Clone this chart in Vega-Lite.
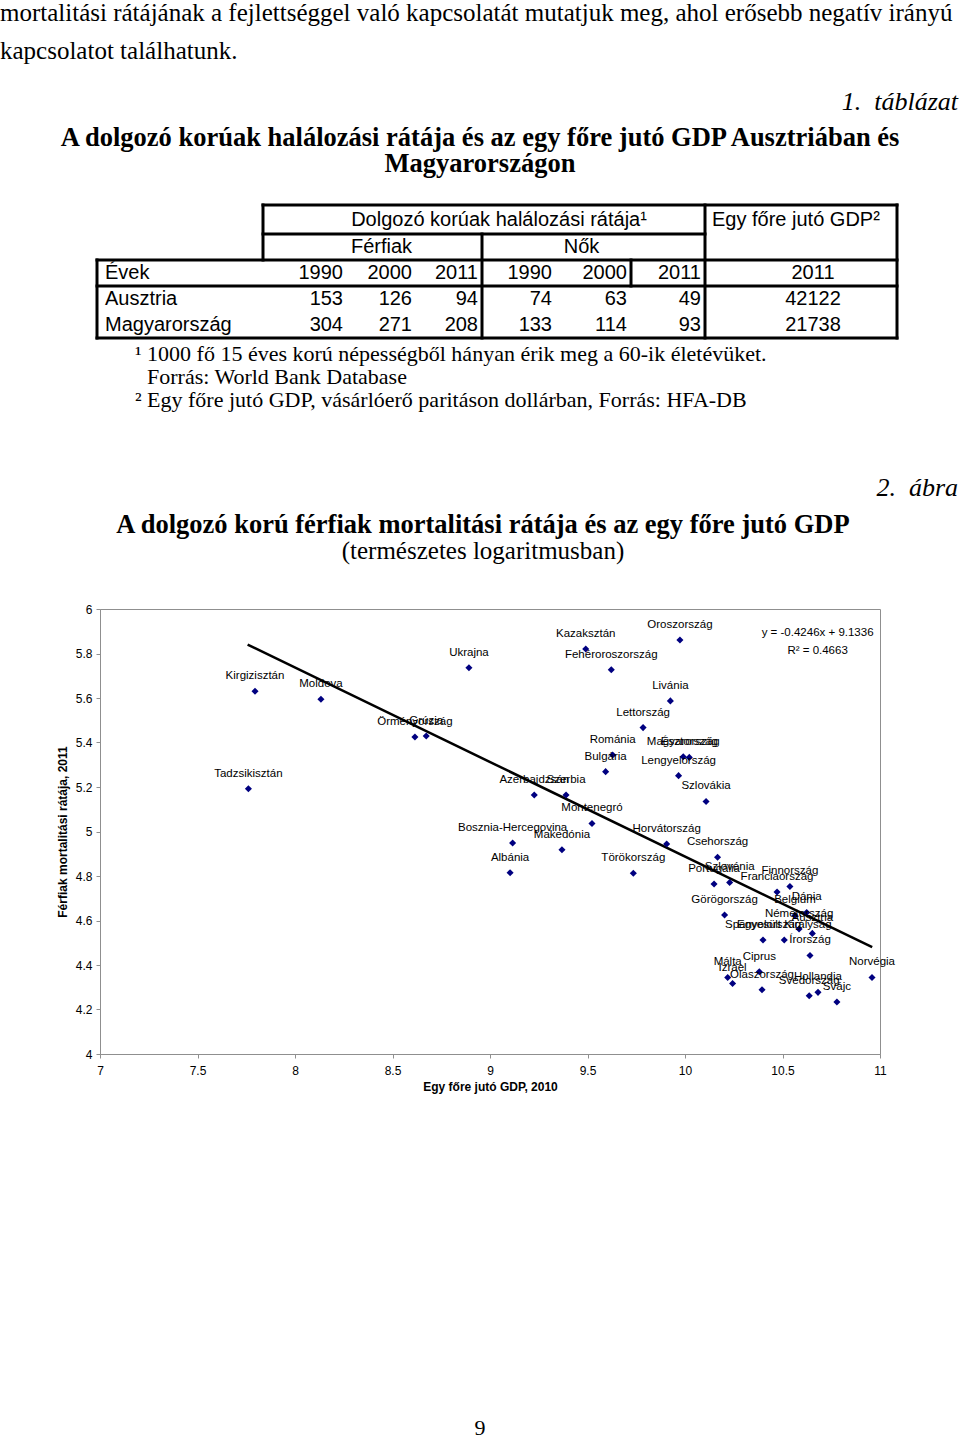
{
  "$schema": "https://vega.github.io/schema/vega-lite/v6.json",
  "padding": 0,
  "spacing": 0,
  "background": "white",
  "config": {
    "view": {"stroke": null},
    "font": "Liberation Sans",
    "text": {"color": "#000"}
  },
  "datasets": {
    "countries": [
      {"country": "Tadzsikisztán", "gdp": 7.761, "mort": 5.192},
      {"country": "Kirgizisztán", "gdp": 7.795, "mort": 5.630},
      {"country": "Moldova", "gdp": 8.133, "mort": 5.594},
      {"country": "Örményország", "gdp": 8.615, "mort": 5.425},
      {"country": "Grúzia", "gdp": 8.673, "mort": 5.429},
      {"country": "Ukrajna", "gdp": 8.892, "mort": 5.736},
      {"country": "Albánia", "gdp": 9.103, "mort": 4.815},
      {"country": "Bosznia-Hercegovina", "gdp": 9.116, "mort": 4.948},
      {"country": "Azerbajdzsán", "gdp": 9.227, "mort": 5.164},
      {"country": "Makedónia", "gdp": 9.369, "mort": 4.918},
      {"country": "Szerbia", "gdp": 9.390, "mort": 5.164},
      {"country": "Kazaksztán", "gdp": 9.491, "mort": 5.820},
      {"country": "Montenegró", "gdp": 9.523, "mort": 5.036},
      {"country": "Bulgária", "gdp": 9.593, "mort": 5.269},
      {"country": "Fehéroroszország", "gdp": 9.622, "mort": 5.727},
      {"country": "Románia", "gdp": 9.629, "mort": 5.344},
      {"country": "Törökország", "gdp": 9.735, "mort": 4.812},
      {"country": "Lettország", "gdp": 9.785, "mort": 5.467},
      {"country": "Horvátország", "gdp": 9.906, "mort": 4.944},
      {"country": "Livánia", "gdp": 9.925, "mort": 5.587},
      {"country": "Lengyelország", "gdp": 9.967, "mort": 5.251},
      {"country": "Oroszország", "gdp": 9.974, "mort": 5.861},
      {"country": "Magyarország", "gdp": 9.991, "mort": 5.336},
      {"country": "Észtország", "gdp": 10.022, "mort": 5.333},
      {"country": "Szlovákia", "gdp": 10.108, "mort": 5.135},
      {"country": "Portugália", "gdp": 10.149, "mort": 4.764},
      {"country": "Csehország", "gdp": 10.167, "mort": 4.884},
      {"country": "Görögország", "gdp": 10.203, "mort": 4.625},
      {"country": "Málta", "gdp": 10.219, "mort": 4.344},
      {"country": "Szlovénia", "gdp": 10.229, "mort": 4.771},
      {"country": "Izrael", "gdp": 10.244, "mort": 4.317},
      {"country": "Ciprus", "gdp": 10.381, "mort": 4.370},
      {"country": "Olaszország", "gdp": 10.395, "mort": 4.289},
      {"country": "Spanyolország", "gdp": 10.400, "mort": 4.512},
      {"country": "Franciaország", "gdp": 10.472, "mort": 4.728},
      {"country": "Egyesült Királyság", "gdp": 10.509, "mort": 4.512},
      {"country": "Finnország", "gdp": 10.538, "mort": 4.753},
      {"country": "Belgium", "gdp": 10.564, "mort": 4.623},
      {"country": "Németország", "gdp": 10.585, "mort": 4.562},
      {"country": "Dánia", "gdp": 10.624, "mort": 4.636},
      {"country": "Svédország", "gdp": 10.637, "mort": 4.262},
      {"country": "Írország", "gdp": 10.641, "mort": 4.443},
      {"country": "Ausztria", "gdp": 10.653, "mort": 4.542},
      {"country": "Hollandia", "gdp": 10.682, "mort": 4.277},
      {"country": "Svájc", "gdp": 10.779, "mort": 4.234},
      {"country": "Norvégia", "gdp": 10.959, "mort": 4.344}
    ],
    "trend": [
      {"gdp": 7.757, "mort": 5.840},
      {"gdp": 10.96, "mort": 4.480}
    ],
    "equation": [
      {"gdp": 10.68, "mort": 5.893, "label": "y = -0.4246x + 9.1336"},
      {"gdp": 10.68, "mort": 5.813, "label": "R² = 0.4663"}
    ]
  },
  "vconcat": [
    {
      "width": 960,
      "height": 76,
      "data": {"values": [
        {"line": 1, "text": "mortalitási rátájának a fejlettséggel való kapcsolatát mutatjuk meg, ahol erősebb negatív irányú"},
        {"line": 2, "text": "kapcsolatot találhatunk."}
      ]},
      "mark": {"type": "text", "align": "left", "baseline": "alphabetic", "dy": 2, "font": "Liberation Serif", "fontSize": 25, "color": "#000"},
      "encoding": {
        "y": {"field": "line", "type": "ordinal", "axis": null},
        "x": {"value": 0},
        "text": {"field": "text"}
      }
    },
    {
      "width": 960,
      "height": 48,
      "data": {"values": [{"text": "1.\u00a0 táblázat"}]},
      "mark": {"type": "text", "align": "right", "baseline": "alphabetic", "dy": 10, "dx": -2, "font": "Liberation Serif", "fontStyle": "italic", "fontSize": 26, "color": "#000"},
      "encoding": {
        "x": {"value": "width"},
        "text": {"field": "text"}
      }
    },
    {
      "width": 960,
      "height": 52,
      "data": {"values": [
        {"line": 1, "text": "A dolgozó korúak halálozási rátája és az egy főre jutó GDP Ausztriában és"},
        {"line": 2, "text": "Magyarországon"}
      ]},
      "mark": {"type": "text", "align": "center", "baseline": "alphabetic", "dy": 9, "font": "Liberation Serif", "fontWeight": "bold", "fontSize": 26.5, "color": "#000"},
      "encoding": {
        "y": {"field": "line", "type": "ordinal", "axis": null},
        "text": {"field": "text"}
      }
    },
    {
      "width": 960,
      "height": 165,
      "layer": [
        {
          "data": {"values": [
            {"y": -0.5, "x1": 0, "x2": 7},
            {"y": 0.5, "x1": 0, "x2": 6},
            {"y": 1.5, "x1": -1, "x2": 7},
            {"y": 2.5, "x1": -1, "x2": 7},
            {"y": 4.5, "x1": -1, "x2": 7}
          ]},
          "mark": {"type": "rule", "strokeWidth": 3, "color": "#000", "strokeCap": "square"},
          "encoding": {
            "x": {"field": "x1", "type": "quantitative", "axis": null, "scale": {"domain": [-1, 0, 1, 2, 3, 4, 5, 6, 7], "range": [97, 263, 347, 416, 482, 556, 631, 705, 897], "nice": false, "zero": false}},
            "x2": {"field": "x2"},
            "y": {"field": "y", "type": "quantitative", "axis": null, "scale": {"domain": [-0.5, 0.5, 1.5, 2.5, 3.5, 4.5], "range": [27, 56, 82, 108, 134, 160], "nice": false, "zero": false}}
          }
        },
        {
          "data": {"values": [
            {"x": -1, "y1": 1.5, "y2": 4.5},
            {"x": 0, "y1": -0.5, "y2": 1.5},
            {"x": 3, "y1": 0.5, "y2": 4.5},
            {"x": 5, "y1": 1.5, "y2": 2.5},
            {"x": 6, "y1": -0.5, "y2": 4.5},
            {"x": 7, "y1": -0.5, "y2": 4.5}
          ]},
          "mark": {"type": "rule", "strokeWidth": 3, "color": "#000", "strokeCap": "square"},
          "encoding": {
            "x": {"field": "x", "type": "quantitative", "axis": null, "scale": {"domain": [-1, 0, 1, 2, 3, 4, 5, 6, 7], "range": [97, 263, 347, 416, 482, 556, 631, 705, 897], "nice": false, "zero": false}},
            "y": {"field": "y1", "type": "quantitative", "axis": null, "scale": {"domain": [-0.5, 0.5, 1.5, 2.5, 3.5, 4.5], "range": [27, 56, 82, 108, 134, 160], "nice": false, "zero": false}},
            "y2": {"field": "y2"}
          }
        },
        {
          "data": {"values": [
            {"row": 2, "t": "Évek"},
            {"row": 3, "t": "Ausztria"},
            {"row": 4, "t": "Magyarország"}
          ]},
          "mark": {"type": "text", "align": "left", "baseline": "middle", "dx": 8, "fontSize": 20, "font": "Liberation Sans", "color": "#000"},
          "encoding": {
            "x": {"datum": -1, "type": "quantitative", "axis": null, "scale": {"domain": [-1, 0, 1, 2, 3, 4, 5, 6, 7], "range": [97, 263, 347, 416, 482, 556, 631, 705, 897], "nice": false, "zero": false}},
            "y": {"field": "row", "type": "quantitative", "axis": null, "scale": {"domain": [-0.5, 0.5, 1.5, 2.5, 3.5, 4.5], "range": [27, 56, 82, 108, 134, 160], "nice": false, "zero": false}},
            "text": {"field": "t"}
          }
        },
        {
          "data": {"values": [
            {"row": 2, "col": 1, "t": "1990"},
            {"row": 2, "col": 2, "t": "2000"},
            {"row": 2, "col": 3, "t": "2011"},
            {"row": 2, "col": 4, "t": "1990"},
            {"row": 2, "col": 5, "t": "2000"},
            {"row": 2, "col": 6, "t": "2011"},
            {"row": 3, "col": 1, "t": "153"},
            {"row": 3, "col": 2, "t": "126"},
            {"row": 3, "col": 3, "t": "94"},
            {"row": 3, "col": 4, "t": "74"},
            {"row": 3, "col": 5, "t": "63"},
            {"row": 3, "col": 6, "t": "49"},
            {"row": 4, "col": 1, "t": "304"},
            {"row": 4, "col": 2, "t": "271"},
            {"row": 4, "col": 3, "t": "208"},
            {"row": 4, "col": 4, "t": "133"},
            {"row": 4, "col": 5, "t": "114"},
            {"row": 4, "col": 6, "t": "93"}
          ]},
          "mark": {"type": "text", "align": "right", "baseline": "middle", "dx": -4, "fontSize": 20, "font": "Liberation Sans", "color": "#000"},
          "encoding": {
            "x": {"field": "col", "type": "quantitative", "axis": null, "scale": {"domain": [-1, 0, 1, 2, 3, 4, 5, 6, 7], "range": [97, 263, 347, 416, 482, 556, 631, 705, 897], "nice": false, "zero": false}},
            "y": {"field": "row", "type": "quantitative", "axis": null, "scale": {"domain": [-0.5, 0.5, 1.5, 2.5, 3.5, 4.5], "range": [27, 56, 82, 108, 134, 160], "nice": false, "zero": false}},
            "text": {"field": "t"}
          }
        },
        {
          "data": {"values": [
            {"row": 2, "t": "2011"},
            {"row": 3, "t": "42122"},
            {"row": 4, "t": "21738"}
          ]},
          "mark": {"type": "text", "align": "center", "baseline": "middle", "dx": 12, "fontSize": 20, "font": "Liberation Sans", "color": "#000"},
          "encoding": {
            "x": {"datum": 6.5, "type": "quantitative", "axis": null, "scale": {"domain": [-1, 0, 1, 2, 3, 4, 5, 6, 7], "range": [97, 263, 347, 416, 482, 556, 631, 705, 897], "nice": false, "zero": false}},
            "y": {"field": "row", "type": "quantitative", "axis": null, "scale": {"domain": [-0.5, 0.5, 1.5, 2.5, 3.5, 4.5], "range": [27, 56, 82, 108, 134, 160], "nice": false, "zero": false}},
            "text": {"field": "t"}
          }
        },
        {
          "data": {"values": [{"t": "Dolgozó korúak halálozási rátája¹"}]},
          "mark": {"type": "text", "align": "center", "baseline": "middle", "dx": 17, "fontSize": 20, "font": "Liberation Sans", "color": "#000"},
          "encoding": {
            "x": {"datum": 3, "type": "quantitative", "axis": null, "scale": {"domain": [-1, 0, 1, 2, 3, 4, 5, 6, 7], "range": [97, 263, 347, 416, 482, 556, 631, 705, 897], "nice": false, "zero": false}},
            "y": {"datum": 0, "type": "quantitative", "axis": null, "scale": {"domain": [-0.5, 0.5, 1.5, 2.5, 3.5, 4.5], "range": [27, 56, 82, 108, 134, 160], "nice": false, "zero": false}},
            "text": {"field": "t"}
          }
        },
        {
          "data": {"values": [{"t": "Férfiak"}]},
          "mark": {"type": "text", "align": "center", "baseline": "middle", "fontSize": 20, "font": "Liberation Sans", "color": "#000"},
          "encoding": {
            "x": {"datum": 1.5, "type": "quantitative", "axis": null, "scale": {"domain": [-1, 0, 1, 2, 3, 4, 5, 6, 7], "range": [97, 263, 347, 416, 482, 556, 631, 705, 897], "nice": false, "zero": false}},
            "y": {"datum": 1, "type": "quantitative", "axis": null, "scale": {"domain": [-0.5, 0.5, 1.5, 2.5, 3.5, 4.5], "range": [27, 56, 82, 108, 134, 160], "nice": false, "zero": false}},
            "text": {"field": "t"}
          }
        },
        {
          "data": {"values": [{"t": "Nők"}]},
          "mark": {"type": "text", "align": "center", "baseline": "middle", "dx": -12, "fontSize": 20, "font": "Liberation Sans", "color": "#000"},
          "encoding": {
            "x": {"datum": 4.5, "type": "quantitative", "axis": null, "scale": {"domain": [-1, 0, 1, 2, 3, 4, 5, 6, 7], "range": [97, 263, 347, 416, 482, 556, 631, 705, 897], "nice": false, "zero": false}},
            "y": {"datum": 1, "type": "quantitative", "axis": null, "scale": {"domain": [-0.5, 0.5, 1.5, 2.5, 3.5, 4.5], "range": [27, 56, 82, 108, 134, 160], "nice": false, "zero": false}},
            "text": {"field": "t"}
          }
        },
        {
          "data": {"values": [{"t": "Egy főre jutó GDP²"}]},
          "mark": {"type": "text", "align": "left", "baseline": "middle", "dx": 7, "fontSize": 20, "font": "Liberation Sans", "color": "#000"},
          "encoding": {
            "x": {"datum": 6, "type": "quantitative", "axis": null, "scale": {"domain": [-1, 0, 1, 2, 3, 4, 5, 6, 7], "range": [97, 263, 347, 416, 482, 556, 631, 705, 897], "nice": false, "zero": false}},
            "y": {"datum": 0, "type": "quantitative", "axis": null, "scale": {"domain": [-0.5, 0.5, 1.5, 2.5, 3.5, 4.5], "range": [27, 56, 82, 108, 134, 160], "nice": false, "zero": false}},
            "text": {"field": "t"}
          }
        }
      ]
    },
    {
      "width": 960,
      "height": 69,
      "layer": [
        {
          "data": {"values": [
            {"line": 1, "text": "¹ 1000 fő 15 éves korú népességből hányan érik meg a 60-ik életévüket."},
            {"line": 3, "text": "² Egy főre jutó GDP, vásárlóerő paritáson dollárban, Forrás: HFA-DB"}
          ]},
          "mark": {"type": "text", "align": "left", "baseline": "alphabetic", "dx": 135, "dy": 4.5, "font": "Liberation Serif", "fontSize": 22, "color": "#000"},
          "encoding": {
            "y": {"field": "line", "type": "ordinal", "axis": null, "scale": {"domain": [1, 2, 3]}},
            "x": {"value": 0},
            "text": {"field": "text"}
          }
        },
        {
          "data": {"values": [
            {"line": 2, "text": "Forrás: World Bank Database"}
          ]},
          "mark": {"type": "text", "align": "left", "baseline": "alphabetic", "dx": 147, "dy": 4.5, "font": "Liberation Serif", "fontSize": 22, "color": "#000"},
          "encoding": {
            "y": {"field": "line", "type": "ordinal", "axis": null, "scale": {"domain": [1, 2, 3]}},
            "x": {"value": 0},
            "text": {"field": "text"}
          }
        }
      ]
    },
    {
      "width": 960,
      "height": 97,
      "data": {"values": [{"text": "2.\u00a0 ábra"}]},
      "mark": {"type": "text", "align": "right", "baseline": "alphabetic", "dy": 33.5, "dx": -2, "font": "Liberation Serif", "fontStyle": "italic", "fontSize": 26, "color": "#000"},
      "encoding": {
        "x": {"value": "width"},
        "text": {"field": "text"}
      }
    },
    {
      "spacing": 0,
      "hconcat": [
        {
          "width": 55,
          "height": 10,
          "view": {"fill": "#ffffff", "stroke": null},
          "data": {"values": []},
          "mark": "point",
          "encoding": {}
        },
        {
          "width": 780,
          "height": 445,
          "view": {"stroke": "#8f8f8f", "strokeWidth": 1},
          "title": {
            "text": "A dolgozó korú férfiak mortalitási rátája és az egy főre jutó GDP",
            "subtitle": "(természetes logaritmusban)",
            "anchor": "middle",
            "frame": "group",
            "dx": -7,
            "font": "Liberation Serif",
            "fontSize": 26.5,
            "fontWeight": "bold",
            "color": "#000",
            "subtitleFont": "Liberation Serif",
            "subtitleFontSize": 25,
            "subtitleColor": "#000",
            "subtitlePadding": 0,
            "offset": 39.5
          },
          "encoding": {
            "x": {
              "field": "gdp", "type": "quantitative",
              "scale": {"domain": [7, 11], "nice": false, "zero": false},
              "axis": {
                "title": "Egy főre jutó GDP, 2010",
                "values": [7, 7.5, 8, 8.5, 9, 9.5, 10, 10.5, 11],
                "format": "~g",
                "grid": false,
                "tickSize": 4,
                "labelPadding": 7,
                "titlePadding": 5,
                "labelFontSize": 12,
                "labelFont": "Liberation Sans",
                "labelColor": "#000",
                "titleFont": "Liberation Sans",
                "titleFontSize": 12,
                "titleFontWeight": "bold",
                "titleColor": "#000",
                "domainColor": "#8f8f8f",
                "tickColor": "#8f8f8f",
                "labelFlush": false,
                "labelOverlap": false
              }
            },
            "y": {
              "field": "mort", "type": "quantitative",
              "scale": {"domain": [4, 6], "nice": false, "zero": false},
              "axis": {
                "title": "Férfiak mortalitási rátája, 2011",
                "values": [4, 4.2, 4.4, 4.6, 4.8, 5, 5.2, 5.4, 5.6, 5.8, 6],
                "format": "~g",
                "grid": false,
                "tickSize": 4,
                "labelPadding": 4,
                "titlePadding": 6,
                "labelFontSize": 12,
                "labelFont": "Liberation Sans",
                "labelColor": "#000",
                "titleFont": "Liberation Sans",
                "titleFontSize": 12,
                "titleFontWeight": "bold",
                "titleColor": "#000",
                "domainColor": "#8f8f8f",
                "tickColor": "#8f8f8f",
                "labelFlush": false,
                "labelOverlap": false
              }
            }
          },
          "layer": [
            {
              "data": {"name": "trend"},
              "mark": {"type": "line", "color": "#000", "strokeWidth": 2.5}
            },
            {
              "data": {"name": "countries"},
              "mark": {"type": "point", "shape": "diamond", "filled": true, "color": "#000080", "size": 50, "opacity": 1}
            },
            {
              "data": {"name": "countries"},
              "mark": {"type": "text", "dy": -15, "baseline": "middle", "font": "Liberation Sans", "fontSize": 11.5, "color": "#000"},
              "encoding": {"text": {"field": "country"}}
            },
            {
              "data": {"name": "equation"},
              "mark": {"type": "text", "baseline": "middle", "font": "Liberation Sans", "fontSize": 11.5, "color": "#000"},
              "encoding": {"text": {"field": "label"}}
            }
          ]
        }
      ]
    },
    {
      "width": 960,
      "height": 348,
      "data": {"values": [{"text": "9"}]},
      "mark": {"type": "text", "align": "center", "baseline": "alphabetic", "dy": 168, "font": "Liberation Serif", "fontSize": 22, "color": "#000"},
      "encoding": {
        "text": {"field": "text"}
      }
    }
  ]
}
